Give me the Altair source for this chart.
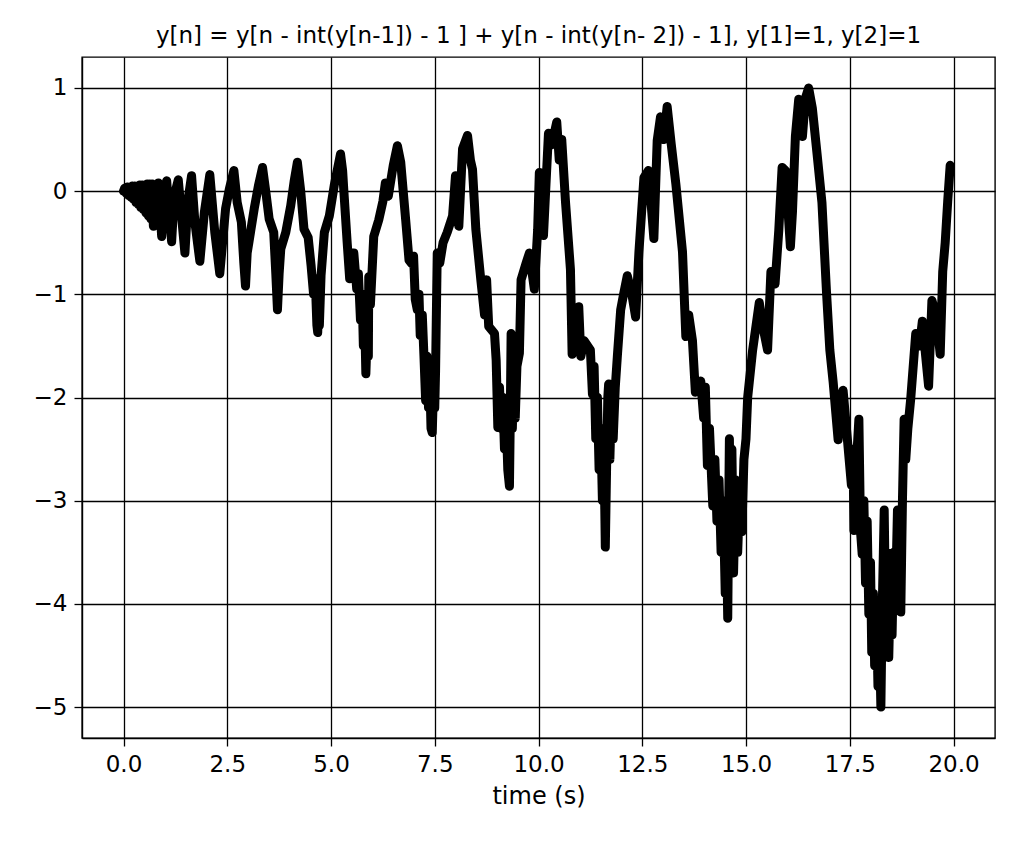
import altair as alt
import pandas as pd

# Values, one pair of arrays per stretch of the curve
T_A = [0.00, 0.03, 0.06, 0.09, 0.12, 0.15, 0.18, 0.21, 0.24, 0.27, 0.30, 0.33, 0.36, 0.39, 0.42, 0.45, 0.48, 0.51,
       0.54, 0.57, 0.60, 0.63, 0.66, 0.69, 0.72, 0.76, 0.80, 0.84, 0.88, 0.92, 0.98, 1.04, 1.10, 1.16, 1.22, 1.32,
       1.40, 1.48, 1.55, 1.64, 1.72, 1.84, 1.95, 2.08, 2.20, 2.32, 2.46, 2.55, 2.66]
V_A = [0.00, 0.03, -0.02, 0.04, -0.04, 0.04, -0.06, 0.05, -0.08, 0.05, -0.11, 0.05, -0.13, 0.06, -0.16, 0.06, -0.18, 0.06,
       -0.21, 0.07, -0.24, 0.07, -0.27, 0.07, -0.34, 0.06, -0.25, 0.08, -0.20, -0.44, 0.00, 0.10, -0.20, -0.49, -0.05, 0.11,
       -0.25, -0.60, -0.10, 0.15, -0.30, -0.68, -0.20, 0.16, -0.40, -0.80, -0.17, 0.02, 0.20]

T_B = [2.74, 2.84, 2.90, 2.94, 2.98, 3.02, 3.15, 3.25, 3.35, 3.43, 3.51, 3.62, 3.67, 3.71, 3.75, 3.79, 3.91,
       4.03, 4.11, 4.19, 4.27, 4.35, 4.45, 4.52, 4.58, 4.62, 4.66, 4.68, 4.70, 4.72, 4.76, 4.84, 4.96, 5.08, 5.15, 5.23]
V_B = [-0.11, -0.30, -0.70, -0.92, -0.60, -0.50, -0.17, 0.05, 0.23, -0.01, -0.27, -0.40, -0.80, -1.15, -0.80, -0.56, -0.40,
       -0.14, 0.09, 0.28, 0.00, -0.37, -0.45, -0.72, -1.00, -0.85, -1.30, -1.37, -1.10, -1.30, -0.82, -0.40, -0.24, 0.06, 0.20, 0.36]

T_C = [5.28, 5.31, 5.39, 5.45, 5.50, 5.55, 5.62, 5.66, 5.71, 5.75, 5.78, 5.81, 5.84, 5.87, 5.90, 5.91, 5.95,
       6.03, 6.15, 6.25, 6.31, 6.38, 6.50, 6.60]
V_C = [0.20, 0.00, -0.50, -0.85, -0.60, -0.60, -0.95, -0.80, -1.25, -1.00, -1.50, -1.20, -1.77, -1.40, -1.60, -0.83, -1.10,
       -0.44, -0.28, -0.10, 0.08, -0.05, 0.25, 0.44]

T_D = [6.68, 6.80, 6.88, 6.94, 6.99, 7.03, 7.08, 7.12, 7.15, 7.20, 7.24, 7.28, 7.31, 7.35, 7.38, 7.41, 7.44,
       7.47, 7.50, 7.52, 7.56, 7.62, 7.70, 7.80, 7.93, 8.00, 8.08, 8.17, 8.29]
V_D = [0.28, -0.28, -0.67, -0.70, -0.63, -1.05, -1.15, -1.00, -1.40, -1.20, -1.60, -2.03, -1.60, -2.10, -1.80, -2.30, -2.34,
       -1.90, -2.10, -1.74, -0.60, -0.70, -0.50, -0.40, -0.24, 0.15, -0.34, 0.41, 0.54]

T_E = [8.36, 8.41, 8.49, 8.61, 8.70, 8.75, 8.80, 8.94, 8.98, 9.02, 9.06, 9.10, 9.14, 9.18, 9.22, 9.26, 9.30,
       9.32, 9.34, 9.37, 9.40, 9.44, 9.48, 9.54, 9.58, 9.70, 9.78, 9.90, 9.98, 10.02, 10.12, 10.24, 10.32, 10.44]
V_E = [0.30, 0.21, -0.37, -0.86, -1.20, -0.86, -1.31, -1.38, -1.64, -2.29, -1.90, -2.30, -2.00, -2.50, -2.20, -2.70, -2.86,
       -2.20, -1.38, -2.30, -1.80, -2.20, -1.70, -1.57, -0.86, -0.70, -0.60, -0.95, -0.37, 0.18, -0.43, 0.56, 0.45, 0.67]

T_F = [10.50, 10.56, 10.65, 10.77, 10.81, 10.90, 10.97, 11.02, 11.10, 11.25, 11.30, 11.34, 11.38, 11.42, 11.46,
       11.50, 11.54, 11.58, 11.61, 11.64, 11.67, 11.69, 11.72, 11.76, 11.80, 11.85, 11.90, 11.98, 12.05, 12.14,
       12.25, 12.34, 12.42, 12.54, 12.65, 12.78, 12.86, 12.94, 13.02, 13.10]
V_F = [0.30, 0.50, -0.10, -0.76, -1.58, -1.30, -1.12, -1.60, -1.45, -1.54, -1.97, -1.70, -2.40, -2.00, -2.70,
       -2.30, -3.00, -2.60, -3.45, -2.70, -2.00, -1.87, -2.60, -2.00, -2.40, -1.90, -1.60, -1.15, -1.00, -0.82,
       -1.00, -1.22, -0.59, 0.13, 0.20, -0.46, 0.49, 0.72, 0.50, 0.82]

T_G = [13.20, 13.31, 13.47, 13.55, 13.62, 13.71, 13.78, 13.91, 13.98, 14.02, 14.07, 14.12, 14.20, 14.25, 14.30,
       14.35, 14.40, 14.45, 14.50, 14.53, 14.56, 14.58, 14.60, 14.63, 14.66, 14.70, 14.75, 14.80, 14.85, 14.90,
       14.95, 15.00, 15.04, 15.16, 15.32, 15.40, 15.52, 15.60, 15.70, 15.79, 15.87, 15.95, 16.07, 16.12, 16.19,
       16.27, 16.36, 16.43, 16.51]
V_G = [0.45, 0.07, -0.59, -1.41, -1.20, -1.45, -1.95, -1.84, -2.20, -1.90, -2.66, -2.30, -3.05, -2.60, -3.20,
       -2.80, -3.50, -3.00, -3.90, -3.40, -4.14, -3.20, -2.40, -3.60, -2.50, -3.70, -2.80, -3.50, -2.90, -3.30,
       -2.60, -2.40, -2.00, -1.54, -1.08, -1.30, -1.54, -0.78, -0.90, -0.38, 0.23, 0.20, -0.54, -0.20, 0.53,
       0.89, 0.53, 0.90, 1.00]

T_H = [16.60, 16.71, 16.83, 16.94, 17.02, 17.10, 17.22, 17.28, 17.34, 17.42, 17.54, 17.58, 17.60, 17.64, 17.68,
       17.72, 17.76, 17.80, 17.84, 17.88, 17.92, 17.96, 18.00, 18.03, 18.07, 18.10, 18.14, 18.18, 18.21, 18.25,
       18.28, 18.31, 18.33, 18.36, 18.40, 18.44, 18.48, 18.52, 18.56, 18.60, 18.65, 18.69, 18.73, 18.77, 18.81,
       18.85, 18.90, 18.97, 19.09, 19.18, 19.25, 19.33, 19.40, 19.48, 19.58, 19.68, 19.74, 19.80, 19.86, 19.92]
V_H = [0.80, 0.37, -0.11, -0.98, -1.54, -1.85, -2.41, -2.00, -1.93, -2.30, -2.85, -2.50, -3.29, -2.80, -2.50,
       -2.21, -3.30, -3.52, -3.00, -3.80, -3.20, -4.10, -3.60, -4.47, -3.90, -4.60, -4.00, -4.80, -4.20, -5.00,
       -4.10, -3.50, -3.09, -4.00, -3.50, -4.52, -3.80, -4.30, -3.50, -4.00, -3.09, -3.80, -4.08, -3.00, -2.21,
       -2.60, -2.30, -2.01, -1.38, -1.50, -1.26, -1.60, -1.89, -1.06, -1.20, -1.58, -0.78, -0.50, -0.10, 0.25]

X_TICKS = [0, 2.5, 5, 7.5, 10, 12.5, 15, 17.5, 20]
Y_TICKS = [-5, -4, -3, -2, -1, 0, 1]
TITLE = "y[n] = y[n - int(y[n-1]) - 1 ] + y[n - int(y[n- 2]) - 1], y[1]=1, y[2]=1"

T = T_A + T_B + T_C + T_D + T_E + T_F + T_G + T_H
V = V_A + V_B + V_C + V_D + V_E + V_F + V_G + V_H
assert len(T) == len(V)

df = pd.DataFrame({"t": T, "y": V, "i": list(range(len(T)))})

FONT = "DejaVu Sans"

chart = alt.Chart(df).mark_line(color="black", strokeWidth=9, strokeJoin="round", strokeCap="round").encode(
    x=alt.X("t:Q", scale=alt.Scale(domain=[-1, 21], nice=False, zero=False),
            axis=alt.Axis(values=X_TICKS, format=".1f", title="time (s)")),
    y=alt.Y("y:Q", scale=alt.Scale(domain=[-5.3, 1.3], nice=False, zero=False),
            axis=alt.Axis(values=Y_TICKS, title=None,
                          labelExpr="datum.value < 0 ? '\u2212' + abs(datum.value) : '' + datum.value")),
    order="i:Q",
).properties(
    width=913, height=681,
    title=alt.TitleParams(TITLE, font=FONT, fontSize=23, fontWeight="normal", color="black",
                          anchor="middle", offset=9),
    autosize=alt.AutoSizeParams(type="none"),
    padding={"left": 74, "top": 49, "right": 21, "bottom": 103},
).configure(
    background="white",
).configure_view(
    stroke="black", strokeWidth=1.4,
).configure_axis(
    grid=True, gridColor="black", gridOpacity=1, gridWidth=1.3,
    domain=True, domainColor="black", domainWidth=1.4,
    ticks=True, tickColor="black", tickSize=8, tickWidth=1.3,
    labelFont=FONT, labelFontSize=23, labelColor="black", labelPadding=7,
    titleFont=FONT, titleFontSize=24, titleFontWeight="normal", titleColor="black", titlePadding=8,
)

chart.save("out.html", embed_options={"renderer": "svg", "actions": False})
